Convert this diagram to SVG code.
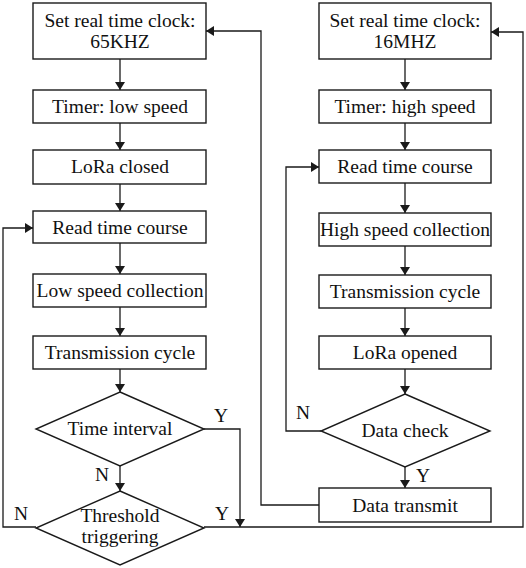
<svg xmlns="http://www.w3.org/2000/svg" width="526" height="568" viewBox="0 0 526 568">
<defs>
<marker id="ah" markerUnits="userSpaceOnUse" markerWidth="8" markerHeight="10" refX="8" refY="5" orient="auto" viewBox="0 0 8 10">
<path d="M0,0 L8,5 L0,10 z" fill="#1a1a1a"/>
</marker>
<style>
.b{fill:#fff;stroke:#1a1a1a;stroke-width:1.4}
.t{font-family:"Liberation Serif","Times New Roman",serif;font-size:19.5px;fill:#111;text-anchor:middle}
.c{fill:none;stroke:#1a1a1a;stroke-width:1.3}
.a{marker-end:url(#ah)}
</style>
</defs>
<rect width="526" height="568" fill="#fff"/>
<g id="connectors">
<path class="c a" d="M120,59 V90"/>
<path class="c a" d="M120,123 V150"/>
<path class="c a" d="M120,184 V211"/>
<path class="c a" d="M120,243 V274"/>
<path class="c a" d="M120,307 V336"/>
<path class="c a" d="M120,369 V392"/>
<path class="c a" d="M120,466 V491"/>
<path class="c a" d="M204,429 H240 V527"/>
<path class="c a" d="M36,527 H3 V228 H33"/>
<path class="c a" d="M204,527 H523 V32 H491"/>
<path class="c a" d="M319,505 H261 V31 H206"/>
<path class="c a" d="M405,59 V90"/>
<path class="c a" d="M405,123 V150"/>
<path class="c a" d="M405,183 V213"/>
<path class="c a" d="M405,246 V275"/>
<path class="c a" d="M405,308 V336"/>
<path class="c a" d="M405,369 V394"/>
<path class="c a" d="M405,467 V488"/>
<path class="c a" d="M321,431 H286 V167 H319"/>
</g>
<g id="labels">
<text class="t" x="221" y="422">Y</text>
<text class="t" x="102" y="481">N</text>
<text class="t" x="21" y="520">N</text>
<text class="t" x="222" y="520">Y</text>
<text class="t" x="303" y="419">N</text>
<text class="t" x="423" y="482">Y</text>
</g>
<g id="l1"><rect class="b" x="33" y="3" width="173" height="56"/><text class="t" x="120" y="27">Set real time clock:</text><text class="t" x="120" y="48">65KHZ</text></g>
<g id="l2"><rect class="b" x="33" y="90" width="173" height="33"/><text class="t" x="120" y="113">Timer: low speed</text></g>
<g id="l3"><rect class="b" x="33" y="150" width="173" height="34"/><text class="t" x="120" y="173">LoRa closed</text></g>
<g id="l4"><rect class="b" x="33" y="211" width="173" height="32"/><text class="t" x="120" y="234">Read time course</text></g>
<g id="l5"><rect class="b" x="33" y="274" width="173" height="33"/><text class="t" x="120" y="297">Low speed collection</text></g>
<g id="l6"><rect class="b" x="33" y="336" width="173" height="33"/><text class="t" x="120" y="359">Transmission cycle</text></g>
<g id="l7"><polygon class="b" points="120,392 204,429 120,466 36,429"/><text class="t" x="120" y="435">Time interval</text></g>
<g id="l8"><polygon class="b" points="120,491 204,528 120,565 36,528"/><text class="t" x="120" y="522">Threshold</text><text class="t" x="120" y="543">triggering</text></g>
<g id="r1"><rect class="b" x="319" y="3" width="172" height="56"/><text class="t" x="405" y="27">Set real time clock:</text><text class="t" x="405" y="48">16MHZ</text></g>
<g id="r2"><rect class="b" x="319" y="90" width="172" height="33"/><text class="t" x="405" y="113">Timer: high speed</text></g>
<g id="r3"><rect class="b" x="319" y="150" width="172" height="33"/><text class="t" x="405" y="173">Read time course</text></g>
<g id="r4"><rect class="b" x="319" y="213" width="172" height="33"/><text class="t" x="405" y="236">High speed collection</text></g>
<g id="r5"><rect class="b" x="319" y="275" width="172" height="33"/><text class="t" x="405" y="298">Transmission cycle</text></g>
<g id="r6"><rect class="b" x="319" y="336" width="172" height="33"/><text class="t" x="405" y="359">LoRa opened</text></g>
<g id="r7"><polygon class="b" points="405,394 490,431 405,467 321,431"/><text class="t" x="405" y="437">Data check</text></g>
<g id="r8"><rect class="b" x="319" y="488" width="172" height="34"/><text class="t" x="405" y="512">Data transmit</text></g>
</svg>
